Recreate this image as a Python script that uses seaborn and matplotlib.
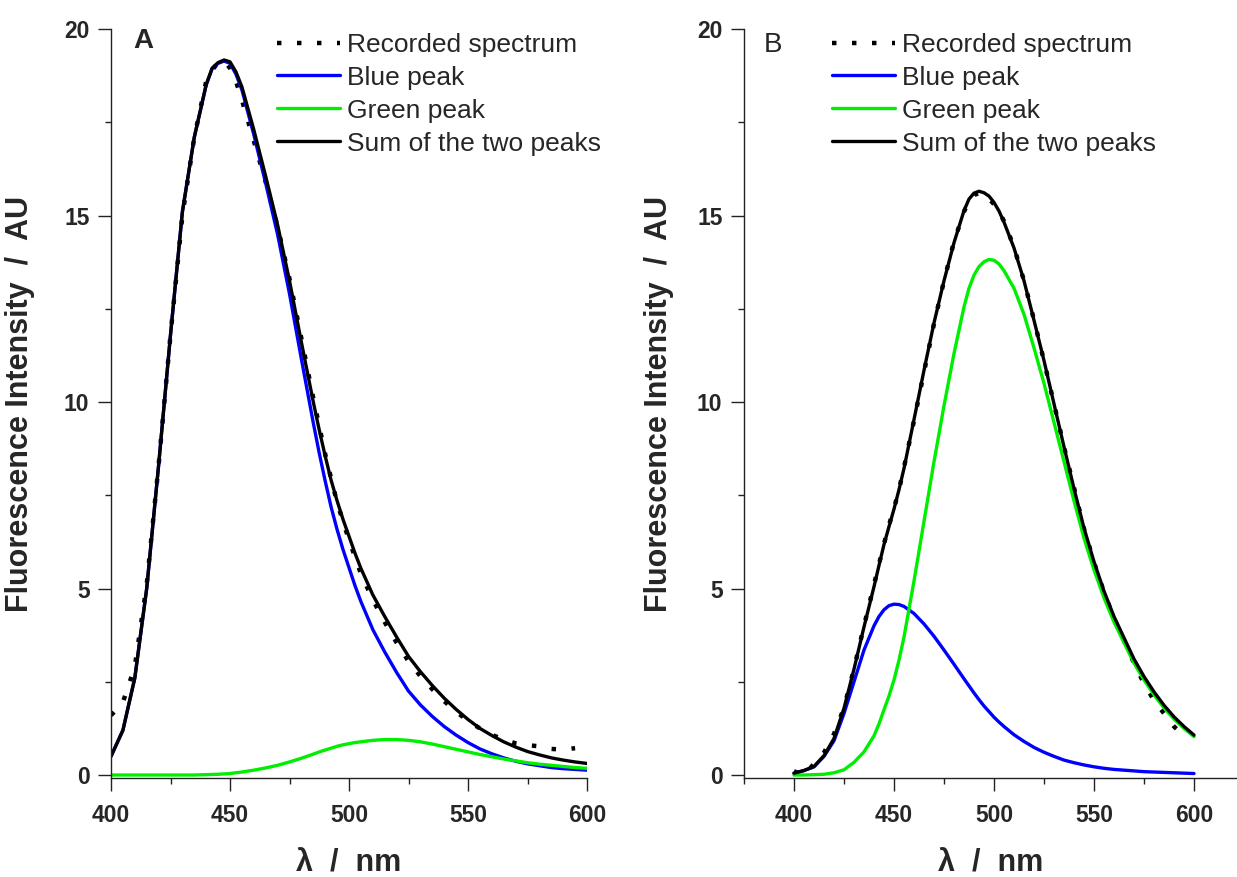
import matplotlib
matplotlib.use("Agg")
import matplotlib.pyplot as plt
import seaborn as sns
import pandas as pd

# ---------------- data ----------------
wavelength = [400, 405, 410, 415, 420, 425, 430, 435, 440, 442.5, 445, 447.5, 450, 452.5, 455,
              460, 465, 470, 475, 480, 485, 487.5, 490, 492.5, 495, 497.5, 500, 502.5, 505,
              510, 515, 520, 525, 530, 535, 540, 545, 550, 555, 560, 565, 570, 575, 580,
              585, 590, 595, 600]

# Panel A
a_recorded = [1.6, 1.95, 2.9, 5.1, 8.3, 11.8, 15.0, 17.1, 18.6, 18.9, 19.1, 19.15, 18.95, 18.6, 18.1,
              17.0, 15.9, 14.7, 13.3, 11.7, 10.1, 9.35, 8.6, 7.95, 7.3, 6.8, 6.3, 5.85, 5.4,
              4.7, 4.1, 3.55, 3.05, 2.65, 2.3, 1.98, 1.7, 1.45, 1.25, 1.08, 0.95, 0.85, 0.8, 0.77,
              0.7, 0.68, 0.72]
a_blue = [0.5, 1.2, 2.6, 5.0, 8.3, 11.8, 15.1, 17.1, 18.5, 18.94, 19.08, 19.14, 19.08, 18.79, 18.37,
          17.17, 15.86, 14.49, 12.9, 11.15, 9.44, 8.63, 7.88, 7.18, 6.58, 6.04, 5.56, 5.08, 4.65,
          3.9, 3.3, 2.75, 2.25, 1.88, 1.57, 1.3, 1.07, 0.87, 0.7, 0.57, 0.46, 0.37, 0.3, 0.25,
          0.2, 0.17, 0.15, 0.13]
a_green = [0.0, 0.0, 0.0, 0.0, 0.0, 0.0, 0.0, 0.0, 0.01, 0.015, 0.02, 0.03, 0.04, 0.06, 0.08,
           0.13, 0.19, 0.26, 0.35, 0.45, 0.56, 0.62, 0.67, 0.72, 0.77, 0.81, 0.84, 0.87, 0.89,
           0.93, 0.95, 0.95, 0.93, 0.89, 0.83, 0.76, 0.69, 0.62, 0.55, 0.49, 0.43, 0.38, 0.33, 0.29,
           0.26, 0.23, 0.2, 0.18]
a_sum = [0.5, 1.2, 2.6, 5.0, 8.3, 11.8, 15.1, 17.1, 18.51, 18.95, 19.1, 19.17, 19.12, 18.85, 18.45,
         17.3, 16.05, 14.75, 13.25, 11.6, 10.0, 9.25, 8.55, 7.9, 7.35, 6.85, 6.4, 5.95, 5.54,
         4.83, 4.25, 3.7, 3.18, 2.77, 2.4, 2.06, 1.76, 1.49, 1.25, 1.06, 0.89, 0.75, 0.63, 0.54,
         0.46, 0.4, 0.35, 0.31]

# Panel B
b_recorded = [0.1, 0.0, 0.3, 0.6, 1.1, 1.8, 2.85, 4.0, 5.1, 5.65, 6.2, 6.7, 7.15, 7.65, 8.25,
              9.5, 10.8, 12.1, 13.25, 14.3, 15.1, 15.4, 15.55, 15.6, 15.55, 15.45, 15.3, 15.1, 14.85,
              14.15, 13.25, 12.2, 11.1, 9.95, 8.8, 7.7, 6.6, 5.7, 4.9, 4.2, 3.6, 3.0, 2.45, 2.0,
              1.65, 1.3, 1.05]
b_blue = [0.05, 0.12, 0.22, 0.5, 0.92, 1.65, 2.5, 3.35, 4.0, 4.25, 4.43, 4.54, 4.58, 4.57, 4.52,
          4.33, 4.05, 3.72, 3.35, 2.97, 2.58, 2.39, 2.2, 2.02, 1.85, 1.7, 1.55, 1.42, 1.3,
          1.08, 0.9, 0.74, 0.61, 0.5, 0.4, 0.33, 0.27, 0.22, 0.18, 0.15, 0.13, 0.11, 0.09, 0.08,
          0.07, 0.06, 0.05, 0.04]
b_green = [0.0, 0.0, 0.01, 0.02, 0.06, 0.14, 0.34, 0.62, 1.05, 1.37, 1.75, 2.12, 2.55, 3.08, 3.7,
           5.2, 6.8, 8.4, 9.9, 11.3, 12.55, 13.05, 13.4, 13.63, 13.76, 13.82, 13.8, 13.7, 13.52,
           13.05, 12.35, 11.45, 10.5, 9.45, 8.4, 7.35, 6.35, 5.5, 4.75, 4.1, 3.55, 3.0, 2.55, 2.15,
           1.8, 1.5, 1.25, 1.03]
b_sum = [0.05, 0.12, 0.23, 0.52, 0.98, 1.79, 2.84, 3.97, 5.05, 5.62, 6.18, 6.66, 7.13, 7.65, 8.22,
         9.53, 10.85, 12.12, 13.25, 14.27, 15.13, 15.44, 15.6, 15.65, 15.61, 15.52, 15.35, 15.12, 14.82,
         14.13, 13.25, 12.19, 11.11, 9.95, 8.8, 7.68, 6.62, 5.72, 4.93, 4.25, 3.68, 3.11, 2.64, 2.23,
         1.87, 1.56, 1.3, 1.07]

series_labels = ["Recorded spectrum", "Blue peak", "Green peak", "Sum of the two peaks"]
y_ticks = [0, 5, 10, 15, 20]
y_minor = [2.5, 7.5, 12.5, 17.5]
x_ticks = [400, 450, 500, 550, 600]
x_minor_a = [425, 475, 525, 575]
x_minor_b = [375, 425, 475, 525, 575]
panel_letters = ["A", "B"]
x_label = "λ  /  nm"
y_label = "Fluorescence Intensity  /  AU"

# ---------------- style ----------------
sns.set_style("ticks")
plt.rcParams["font.family"] = ["Liberation Sans", "DejaVu Sans"]

W, H = 1237, 877
fig = plt.figure(figsize=(W / 100, H / 100), dpi=100)


def frac_box(left, right, top, bottom):
    return [left / W, (H - bottom) / H, (right - left) / W, (bottom - top) / H]


axA = fig.add_axes(frac_box(111, 587, 29, 778))
axB = fig.add_axes(frac_box(744, 1237, 29, 778))

blue_c = "#0000ff"
green_c = "#00ee00"
dot_style = (0, (1, 3.5))

panels = [
    dict(ax=axA, rec=a_recorded, blu=a_blue, grn=a_green, tot=a_sum, xlim=(400, 600),
         minor=x_minor_a, leg_x=0.349, letter_x=133, letter_base=48, left=111, width=476,
         ylab_right=35),
    dict(ax=axB, rec=b_recorded, blu=b_blue, grn=b_green, tot=b_sum, xlim=(375, 621.5),
         minor=x_minor_b, leg_x=0.1785, letter_x=764, letter_base=52, left=744, width=493,
         ylab_right=674),
]

for i, p in enumerate(panels):
    ax = p["ax"]
    df_rec = pd.DataFrame({"x": wavelength[:len(p["rec"])], "y": p["rec"]})
    sns.lineplot(data=df_rec, x="x", y="y", ax=ax, color="black", lw=3.2,
                 linestyle=dot_style, dash_capstyle="butt", label=series_labels[0],
                 estimator=None, sort=False)
    sns.lineplot(x=wavelength, y=p["blu"], ax=ax, color=blue_c, lw=2.4,
                 label=series_labels[1], estimator=None, sort=False)
    sns.lineplot(x=wavelength, y=p["grn"], ax=ax, color=green_c, lw=2.4,
                 label=series_labels[2], estimator=None, sort=False)
    sns.lineplot(x=wavelength, y=p["tot"], ax=ax, color="black", lw=2.4,
                 label=series_labels[3], estimator=None, sort=False)

    ax.set_xlim(*p["xlim"])
    ax.set_ylim(-0.08, 20)
    ax.set_xticks(x_ticks)
    ax.set_xticks(p["minor"], minor=True)
    ax.set_yticks(y_ticks)
    ax.set_yticks(y_minor, minor=True)
    ax.set_xticklabels([str(v) for v in x_ticks])
    ax.set_yticklabels([str(v) for v in y_ticks])

    for s in ["top", "right"]:
        ax.spines[s].set_visible(False)
    for s in ["left", "bottom"]:
        ax.spines[s].set_linewidth(1.0)
        ax.spines[s].set_color("#222222")

    ax.tick_params(axis="both", which="major", direction="out", length=9.5, width=1.0,
                   color="#222222", labelsize=16.5, pad=6)
    ax.tick_params(axis="both", which="minor", direction="out", length=4.5, width=1.0,
                   color="#222222")
    ax.tick_params(axis="x", which="major", pad=9)
    for lab in ax.get_xticklabels() + ax.get_yticklabels():
        lab.set_fontweight("bold")

    ax.set_xlabel(x_label, fontsize=22, fontweight="bold")
    ax.set_ylabel(y_label, fontsize=22, fontweight="bold")
    ax.xaxis.set_label_coords(0.5, -0.094)
    ax.yaxis.set_label_coords((p["ylab_right"] - p["left"]) / p["width"], 0.5)

    ax.text((p["letter_x"] - p["left"]) / p["width"], (778 - p["letter_base"]) / 749,
            panel_letters[i], transform=ax.transAxes, fontsize=20,
            fontweight="bold" if i == 0 else "normal", va="baseline", ha="left")

    ax.legend(loc="upper left", bbox_to_anchor=(p["leg_x"], 0.995), frameon=False,
              fontsize=19, handlelength=2.39, handletextpad=0.27, labelspacing=0.34,
              borderpad=0, borderaxespad=0)

fig.savefig("out.png", dpi=100)
